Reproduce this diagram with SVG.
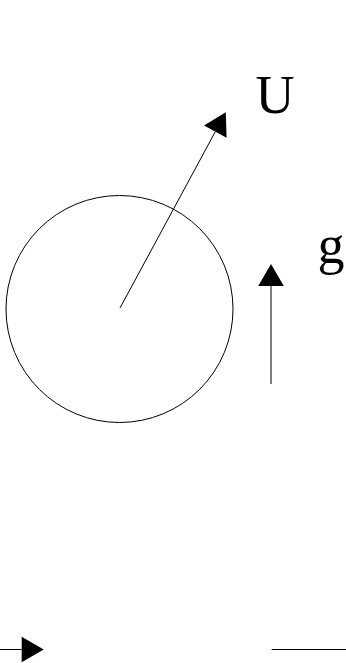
<svg xmlns="http://www.w3.org/2000/svg" width="346" height="663" viewBox="0 0 346 663">
<style>
.ln{stroke:#000;stroke-width:1;fill:none}
.lbl{font-family:"Liberation Serif","Times New Roman",serif;font-size:54px;fill:#000}
</style>
<defs>
<marker id="ah" markerUnits="userSpaceOnUse" markerWidth="22" markerHeight="26" refX="0" refY="12.8" orient="auto" overflow="visible">
<path d="M0,0 L22,12.8 L0,25.6 Z" fill="#000"/>
</marker>
</defs>
<g id="ball">
<circle class="ln" cx="119.5" cy="309" r="113.5"/>
</g>
<g id="label-U"><text class="lbl" x="255.5" y="113">U</text></g>
<g id="label-g"><text class="lbl" x="317.5" y="262.5">g</text></g>
<g id="connectors">
<line class="ln" x1="120" y1="308" x2="215.3" y2="131.7" marker-end="url(#ah)"/>
<line class="ln" x1="271" y1="384" x2="271" y2="286" marker-end="url(#ah)"/>
<line class="ln" x1="0" y1="649.5" x2="21.7" y2="649.5" marker-end="url(#ah)"/>
<line class="ln" x1="271.7" y1="649.5" x2="346" y2="649.5"/>
</g>
</svg>
